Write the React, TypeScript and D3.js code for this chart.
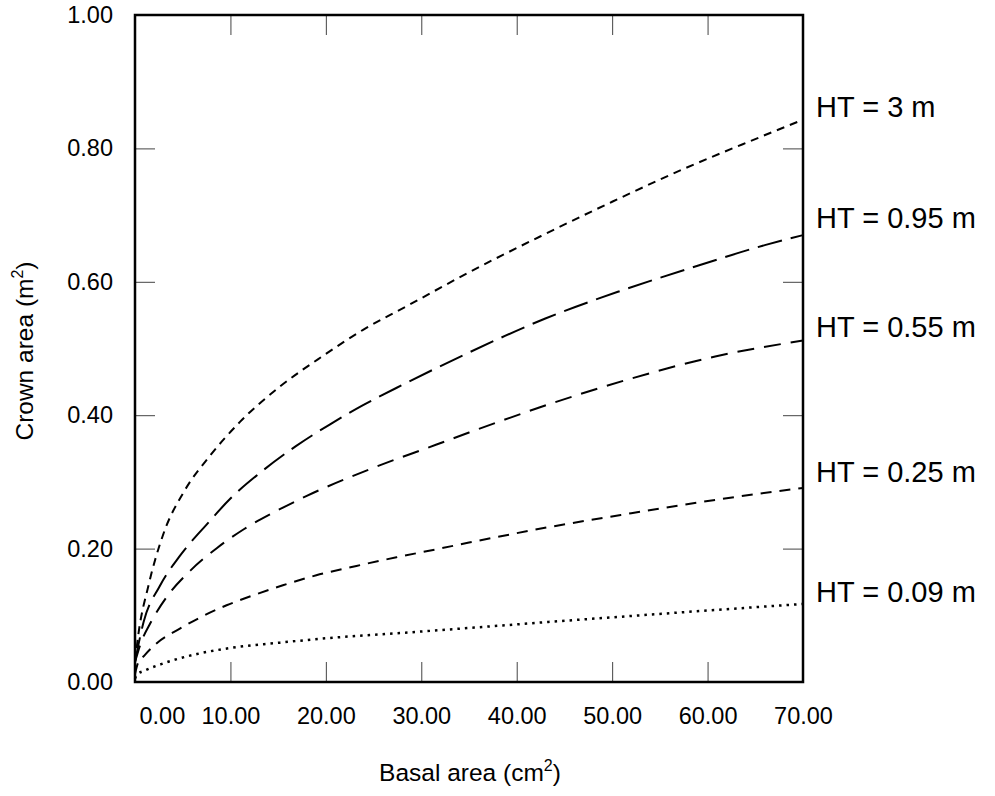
import { useRef, useEffect } from 'react';
import * as d3 from 'd3';

// [basal area (cm2), crown area (m2)]
const ht3: [number, number][] = [
  [0, 0.03], [0.35, 0.071], [1.4, 0.144], [3.0, 0.223], [5.2, 0.287], [7.9, 0.34],
  [11, 0.39], [15.2, 0.443], [19.7, 0.489], [23.9, 0.528], [28.8, 0.566], [35.1, 0.615],
  [42.6, 0.669], [50, 0.72], [57.3, 0.768], [65, 0.814], [70, 0.843],
];
const ht095: [number, number][] = [
  [0, 0.03], [0.9, 0.09], [2.6, 0.144], [4.7, 0.189], [7.5, 0.236], [10, 0.275],
  [13.4, 0.317], [16.9, 0.354], [20.4, 0.386], [23.9, 0.415], [28.1, 0.446], [35, 0.494],
  [43, 0.545], [50.6, 0.585], [58.3, 0.621], [66, 0.655], [70, 0.67],
];
const ht055: [number, number][] = [
  [0, 0.03], [0.6, 0.058], [1.6, 0.088], [3.3, 0.127], [5.8, 0.167], [8.6, 0.201],
  [11.4, 0.229], [14.9, 0.257], [18, 0.279], [24.6, 0.319], [31.6, 0.356], [35, 0.374],
  [43.3, 0.416], [52, 0.455], [60.8, 0.488], [70, 0.512],
];
const ht025: [number, number][] = [
  [0, 0.012], [0.3, 0.028], [1, 0.04], [2.1, 0.056], [4.7, 0.08], [7, 0.098],
  [9.6, 0.115], [12.4, 0.13], [15.5, 0.145], [19, 0.16], [23.2, 0.174], [27.4, 0.187],
  [31.6, 0.199], [35, 0.209], [43.3, 0.232], [52, 0.253], [60.8, 0.273], [70, 0.291],
];
const ht009: [number, number][] = [
  [0, 0.005], [0.2, 0.011], [1, 0.017], [3, 0.028], [6.5, 0.042], [10, 0.051],
  [15.2, 0.059], [20.4, 0.066], [27.4, 0.073], [35, 0.081], [43.3, 0.09], [52, 0.099],
  [60.8, 0.108], [70, 0.117],
];

const seriesNames = ['HT = 3 m', 'HT = 0.95 m', 'HT = 0.55 m', 'HT = 0.25 m', 'HT = 0.09 m'];
const seriesData = [ht3, ht095, ht055, ht025, ht009];
const dashes = ['8,6', '25,9', '17,10', '11,8', '2.5,5'];
const labelY = [117, 228, 337, 482, 602];

const xTicks = [0, 10, 20, 30, 40, 50, 60, 70];
const yTicks = [0, 0.2, 0.4, 0.6, 0.8, 1.0];

const width = 995;
const height = 796;
const margin = { top: 15, left: 135, right: 192, bottom: 114 };
const font = '"Liberation Sans", Arial, Helvetica, sans-serif';

const Chart = () => {
  const ref = useRef<SVGSVGElement>(null);

  useEffect(() => {
    const svg = d3.select(ref.current);
    svg.selectAll('*').remove();

    const x = d3
      .scaleLinear()
      .domain([0, 70])
      .range([margin.left, width - margin.right]);
    const y = d3
      .scaleLinear()
      .domain([0, 1])
      .range([height - margin.bottom, margin.top]);

    const inner = [10, 20, 30, 40, 50, 60];
    const innerY = [0.2, 0.4, 0.6, 0.8];

    // bottom axis with labels
    const bottom = svg
      .append('g')
      .attr('transform', `translate(0, ${y(0)})`)
      .call(
        d3.axisBottom(x).tickValues(xTicks).tickSize(-20).tickPadding(25).tickFormat(d3.format('.2f'))
      );
    bottom.select('.domain').remove();
    bottom
      .selectAll('.tick')
      .filter((d) => !inner.includes(d as number))
      .select('line')
      .remove();
    bottom.selectAll('.tick text').filter((d) => d === 0).attr('text-anchor', 'start').attr('x', 4);

    // left axis with labels
    const left = svg
      .append('g')
      .attr('transform', `translate(${x(0)}, 0)`)
      .call(d3.axisLeft(y).tickValues(yTicks).tickSize(-20).tickPadding(22).tickFormat(d3.format('.2f')));
    left.select('.domain').remove();
    left
      .selectAll('.tick')
      .filter((d) => !innerY.includes(d as number))
      .select('line')
      .remove();

    // top and right ticks only
    const top = svg
      .append('g')
      .attr('transform', `translate(0, ${y(1)})`)
      .call(d3.axisTop(x).tickValues(inner).tickSize(-20).tickFormat(() => ''));
    top.select('.domain').remove();

    const right = svg
      .append('g')
      .attr('transform', `translate(${x(70)}, 0)`)
      .call(d3.axisRight(y).tickValues(innerY).tickSize(-20).tickFormat(() => ''));
    right.select('.domain').remove();

    svg
      .selectAll('.tick text')
      .attr('font-family', font)
      .attr('font-size', 23.5)
      .attr('fill', '#000');
    svg.selectAll('.tick line').attr('stroke', '#444').attr('stroke-width', 1);

    // frame
    svg
      .append('rect')
      .attr('x', x(0))
      .attr('y', y(1))
      .attr('width', x(70) - x(0))
      .attr('height', y(0) - y(1))
      .attr('fill', 'none')
      .attr('stroke', '#000')
      .attr('stroke-width', 2.5);

    const line = d3
      .line<[number, number]>()
      .x((d) => x(d[0]))
      .y((d) => y(d[1]))
      .curve(d3.curveMonotoneX);

    seriesData.forEach((s, i) => {
      svg
        .append('path')
        .datum(s)
        .attr('d', line)
        .attr('fill', 'none')
        .attr('stroke', '#000')
        .attr('stroke-width', i === 4 ? 2.5 : 2)
        .attr('stroke-dasharray', dashes[i]);

      svg
        .append('text')
        .attr('x', x(70) + 13)
        .attr('y', labelY[i])
        .attr('font-family', font)
        .attr('font-size', 29)
        .text(seriesNames[i]);
    });

    // axis titles
    const xt = svg
      .append('text')
      .attr('x', 470)
      .attr('y', 781)
      .attr('text-anchor', 'middle')
      .attr('font-family', font)
      .attr('font-size', 24.5);
    xt.append('tspan').text('Basal area (cm');
    xt.append('tspan').attr('font-size', 16).attr('dy', -10).text('2');
    xt.append('tspan').attr('dy', 10).text(')');

    const yt = svg
      .append('text')
      .attr('transform', `translate(33, 351) rotate(-90)`)
      .attr('text-anchor', 'middle')
      .attr('font-family', font)
      .attr('font-size', 24.5);
    yt.append('tspan').text('Crown area (m');
    yt.append('tspan').attr('font-size', 16).attr('dy', -10).text('2');
    yt.append('tspan').attr('dy', 10).text(')');
  }, []);

  return (
    <svg
      ref={ref}
      width={width}
      height={height}
      style={{ position: 'absolute', left: 0, top: 0, background: '#fff' }}
    ></svg>
  );
};

export default function App() {
  return <Chart />;
}
